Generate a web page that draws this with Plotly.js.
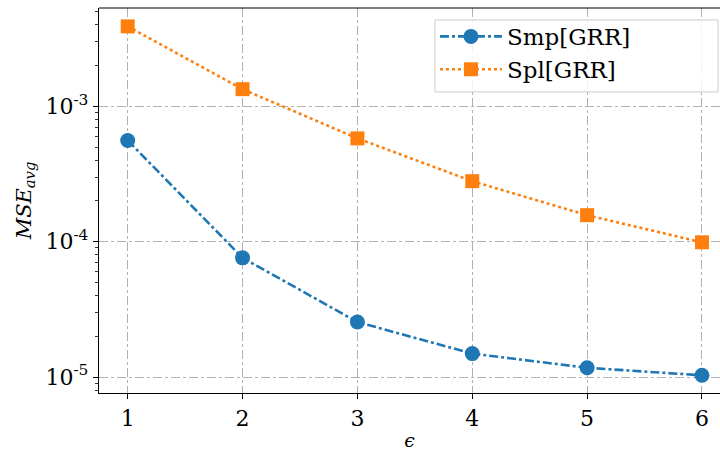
<!DOCTYPE html>
<html><head><meta charset="utf-8">
<script src="https://cdn.plot.ly/plotly-3.0.1.min.js"></script>
<style>html,body{margin:0;padding:0;background:#fff}</style>
</head><body><div id="chart" style="width:720px;height:451px"></div>
<script>
const epsilon = [1, 2, 3, 4, 5, 6];
const smpGRR = [5.6e-4, 7.6e-5, 2.55e-5, 1.49e-5, 1.17e-5, 1.03e-5];
const splGRR = [3.9e-3, 1.34e-3, 5.8e-4, 2.8e-4, 1.57e-4, 9.9e-5];
const seriesNames = ['Smp[GRR]', 'Spl[GRR]'];
const majorTickVals = [1e-5, 1e-4, 1e-3];
const majorTickText = ['10<sup>-5</sup>', '10<sup>-4</sup>', '10<sup>-3</sup>'];

const minorVals = [];
[1e-6, 1e-5, 1e-4, 1e-3].forEach(d => { for (let k = 2; k <= 9; k++) minorVals.push(k * d); });

const font = {family: 'DejaVu Serif', color: '#000'};
const traces = [
  {x: epsilon, y: smpGRR, name: seriesNames[0], mode: 'lines+markers',
   line: {color: '#1f77b4', width: 2.6, dash: 'dashdot'},
   marker: {symbol: 'circle', size: 15, color: '#1f77b4'}},
  {x: epsilon, y: splGRR, name: seriesNames[1], mode: 'lines+markers',
   line: {color: '#ff7f0e', width: 2.6, dash: 'dot'},
   marker: {symbol: 'square', size: 14, color: '#ff7f0e'}},
  {x: [epsilon[0]], y: [smpGRR[0]], yaxis: 'y2', showlegend: false, hoverinfo: 'skip',
   mode: 'markers', marker: {opacity: 0}}
];
const layout = {
  width: 720, height: 451,
  margin: {l: 99, r: 0, t: 8, b: 58},
  paper_bgcolor: '#fff', plot_bgcolor: '#fff',
  font: Object.assign({size: 21}, font),
  showlegend: true,
  legend: {x: 0.541, y: 0.982, xanchor: 'left', yanchor: 'top',
           bgcolor: 'rgba(0,0,0,0)', borderwidth: 0,
           font: Object.assign({size: 23}, font), itemwidth: 62, tracegroupgap: 0},
  xaxis: {range: [0.75, 6.157], tickvals: epsilon, ticktext: epsilon.map(String),
          ticks: 'outside', ticklen: 5, tickwidth: 1, tickcolor: '#000',
          showline: true, linecolor: '#000', linewidth: 1.2,
          showgrid: true, gridcolor: '#a8a8a8', griddash: 'dashdot', gridwidth: 0.9,
          zeroline: false, tickfont: Object.assign({size: 22}, font),
          title: {text: '<i>ϵ</i>', font: Object.assign({size: 19}, font), standoff: 10}},
  yaxis: {type: 'log', range: [-5.118, -2.273], tickvals: majorTickVals, ticktext: majorTickText,
          ticks: 'outside', ticklen: 5, tickwidth: 1, tickcolor: '#000',
          showline: true, linecolor: '#000', linewidth: 1.2,
          showgrid: true, gridcolor: '#a8a8a8', griddash: 'dashdot', gridwidth: 0.9,
          zeroline: false, tickfont: Object.assign({size: 22}, font),
          title: {text: '<i>MSE</i><sub><i>avg</i></sub>', font: Object.assign({size: 21}, font), standoff: 8}},
  yaxis2: {type: 'log', overlaying: 'y', matches: 'y', side: 'left', range: [-5.118, -2.273],
           tickvals: minorVals, showticklabels: false, ticks: 'outside', ticklen: 3, tickwidth: 0.8,
           tickcolor: '#000', showgrid: false, zeroline: false, showline: false},
  shapes: [
    {type: 'line', xref: 'paper', yref: 'paper', x0: 0, x1: 1, y0: 1, y1: 1,
     line: {color: '#000', width: 1.2}},
    {type: 'rect', xref: 'paper', yref: 'paper', x0: 0.541, x1: 0.997, y0: 0.782, y1: 0.969,
     layer: 'above', fillcolor: 'rgba(255,255,255,0.85)', line: {color: '#cccccc', width: 1}}
  ]
};
Plotly.newPlot('chart', traces, layout, {staticPlot: true, displayModeBar: false});
</script></body></html>
